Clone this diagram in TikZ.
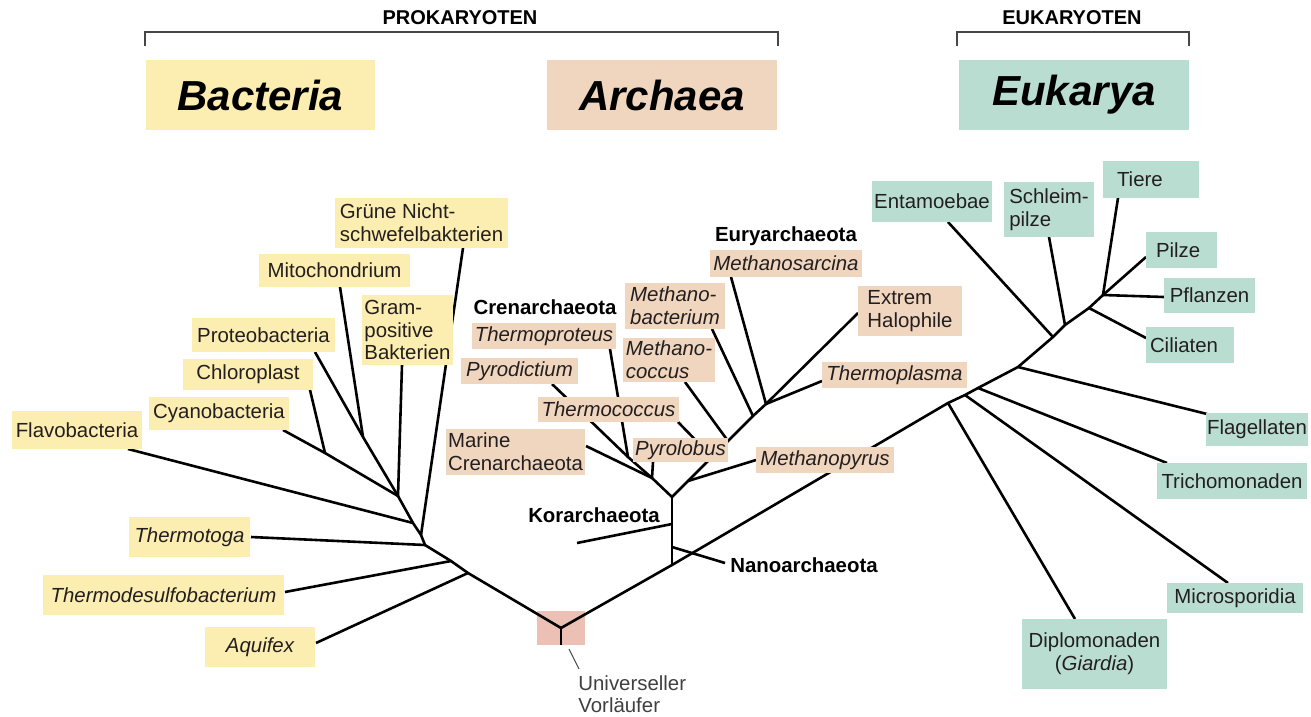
\documentclass[tikz,border=0pt]{standalone}
\usepackage{fontspec}
\setmainfont{Liberation Sans}
\usetikzlibrary{calc}
\definecolor{bacY}{RGB}{252,237,176}
\definecolor{arcP}{RGB}{240,214,190}
\definecolor{eukG}{RGB}{185,222,209}
\definecolor{rootR}{RGB}{236,192,180}
\definecolor{txt}{RGB}{35,31,32}
\definecolor{brk}{RGB}{70,70,70}
\pgfdeclarelayer{bottom}
\pgfdeclarelayer{bg}
\pgfsetlayers{bottom,bg,main}
\tikzset{
  lbl/.style={font=\fontsize{10.2}{11.3}\selectfont, text=txt, inner sep=0pt, align=center},
  it/.style={font=\fontsize{10.2}{11.3}\selectfont\itshape},
  title/.style={font=\fontsize{21}{24}\selectfont\bfseries\itshape, text=black},
  grp/.style={font=\fontsize{10.2}{11.3}\selectfont\bfseries, text=black, inner sep=0pt},
  head/.style={font=\fontsize{10}{12}\selectfont\bfseries, text=black, inner sep=0pt},
  br/.style={line width=1.3pt, black},
  thin/.style={line width=0.6pt, brk},
}
\newcommand\lbox[8]{%
  \pgfmathsetmacro\lbw{(#5-#3)*0.5}%
  \pgfmathsetmacro\lbh{(#6-#4)*0.5}%
  \node[lbl, fill=#2, minimum width=\lbw pt, minimum height=\lbh pt, #7] (#1) at ({(#3+#5)/2},{(#4+#6)/2}) {#8};}
\begin{document}
\begin{tikzpicture}[x=0.5pt, y=-0.5pt]
\useasboundingbox (0,0) rectangle (1311,717);

% ---------- headers ----------
\node[head] (prok) at (460,18) {PROKARYOTEN};
\node[head] (euk) at (1072,18) {EUKARYOTEN};
\coordinate (pb1) at (145,46); \coordinate (pb2) at (145,32);
\coordinate (pb3) at (778,32); \coordinate (pb4) at (778,46);
\coordinate (eb1) at (957,46); \coordinate (eb2) at (957,32);
\coordinate (eb3) at (1189,32); \coordinate (eb4) at (1189,46);
\draw[thin] (pb1) -- (pb2) -- (pb3) -- (pb4);
\draw[thin] (eb1) -- (eb2) -- (eb3) -- (eb4);

\lbox{hbac}{bacY}{146}{60}{375}{130}{title}{Bacteria}
\lbox{harc}{arcP}{547}{60}{777}{130}{title}{Archaea}
\lbox{heuk}{eukG}{959}{60}{1189}{130}{title}{Eukarya}

% ---------- bacteria ----------
\lbox{gruene}{bacY}{335}{198}{508}{248}{align=left}{Grüne Nicht-\\schwefelbakterien}
\lbox{mito}{bacY}{259}{254}{410}{287}{}{Mitochondrium}
\lbox{gram}{bacY}{362}{295}{453}{365}{align=left}{Gram-\\positive\\Bakterien}
\lbox{proteo}{bacY}{192}{318}{335}{352}{}{Proteobacteria}
\lbox{chloro}{bacY}{183}{359}{313}{390}{}{Chloroplast}
\lbox{cyano}{bacY}{149}{397}{289}{430}{}{Cyanobacteria}
\lbox{flavo}{bacY}{12}{411}{142}{449}{}{Flavobacteria}
\lbox{ttoga}{bacY}{129}{517}{250}{557}{it}{Thermotoga}
\lbox{tdesulf}{bacY}{43}{575}{284}{615}{it}{Thermodesulfobacterium}
\lbox{aquifex}{bacY}{205}{627}{315}{667}{it}{Aquifex}

% ---------- archaea ----------
\node[grp] (eury) at (786,236) {Euryarchaeota};
\node[grp] (cren) at (545,307) {Crenarchaeota};
\node[grp] (kor) at (594,515) {Korarchaeota};
\node[grp] (nano) at (804,565) {Nanoarchaeota};
\lbox{msarc}{arcP}{710}{250}{862}{277}{it}{Methanosarcina}
\lbox{mbact}{arcP}{625}{283}{725}{329}{it, align=left}{Methano-\\bacterium}
\lbox{tprot}{arcP}{472}{323}{616}{349}{it}{Thermoproteus}
\lbox{mcocc}{arcP}{623}{338}{715}{382}{it, align=left}{Methano-\\coccus}
\lbox{xhalo}{arcP}{858}{286}{962}{336}{align=left}{Extrem\\Halophile}
\lbox{pdict}{arcP}{461}{358}{578}{384}{it}{Pyrodictium}
\lbox{tplas}{arcP}{822}{362}{967}{388}{it}{Thermoplasma}
\lbox{tcocc}{arcP}{538}{397}{679}{422}{it}{Thermococcus}
\lbox{marine}{arcP}{446}{429}{585}{475}{align=left}{Marine\\Crenarchaeota}
\lbox{plobus}{arcP}{633}{438}{728}{462}{it}{Pyrolobus}
\lbox{mpyrus}{arcP}{756}{447}{894}{473}{it}{Methanopyrus}

% ---------- eukarya ----------
\lbox{entam}{eukG}{872}{181}{992}{222}{}{Entamoebae}
\lbox{schleim}{eukG}{1004}{182}{1094}{237}{align=left}{Schleim-\\pilze}
\lbox{tiere}{eukG}{1103}{161}{1199}{198}{text width=34pt, inner xsep=7pt, align=left}{Tiere}
\lbox{pilze}{eukG}{1146}{232}{1217}{268}{text width=25.5pt, inner xsep=5pt, align=left}{Pilze}
\lbox{pflanz}{eukG}{1164}{278}{1255}{313}{}{Pflanzen}
\lbox{cilia}{eukG}{1146}{327}{1234}{363}{text width=40pt, inner xsep=2pt, align=left}{Ciliaten}
\lbox{flag}{eukG}{1206}{413}{1308}{446}{}{Flagellaten}
\lbox{trich}{eukG}{1157}{463}{1307}{499}{}{Trichomonaden}
\lbox{micro}{eukG}{1167}{583}{1303}{613}{}{Microsporidia}
\lbox{diplo}{eukG}{1022}{619}{1167}{689}{}{Diplomonaden\\(\textit{Giardia})}

% ---------- root ----------
\begin{pgfonlayer}{bottom}
\lbox{rootbox}{rootR}{537}{611}{585}{645}{}{}
\end{pgfonlayer}
\node[lbl, align=left, anchor=north west, text=black!75] (uv) at (578,675) {Universeller\\Vorläufer};

% ---------- coordinates ----------
\coordinate (R) at (561,628); \coordinate (Rb) at (561,645);
\coordinate (uvA) at (569,649); \coordinate (uvB) at (579,669);
% bacteria
\coordinate (jAq) at (468,573); \coordinate (jTD) at (451,561);
\coordinate (jTt) at (425,545); \coordinate (jGr) at (421,535);
\coordinate (jFl) at (413,523); \coordinate (J2) at (398,496);
\coordinate (J1) at (363,437); \coordinate (J3) at (325,453);
\coordinate (pAq) at (316,643); \coordinate (pTD) at (285,592);
\coordinate (pTt) at (251,537); \coordinate (pGr) at (463,248);
\coordinate (pFl) at (128,449); \coordinate (pGram) at (402,365);
\coordinate (pProt) at (315,352); \coordinate (pMito) at (340,287);
\coordinate (pChl) at (310,390); \coordinate (pCya) at (283,430);
% archaea
\coordinate (A0) at (672,565); \coordinate (A1) at (672,497);
\coordinate (kJ) at (672,524); \coordinate (nJ) at (672,547);
\coordinate (pKor) at (577,543); \coordinate (pNano) at (725,563);
\coordinate (C1) at (652,478); \coordinate (C2) at (628,457);
\coordinate (pMar) at (586,446); \coordinate (pPyl) at (653,462);
\coordinate (pTpr) at (610,349); \coordinate (pPyd) at (552,384);
\coordinate (mpJ) at (688,481); \coordinate (tcJ) at (712,457);
\coordinate (mcJ) at (728,441); \coordinate (mbJ) at (753,416);
\coordinate (E1) at (766,404);
\coordinate (pMpy) at (756,460); \coordinate (pTco) at (678,422);
\coordinate (pMco) at (685,382); \coordinate (pMba) at (712,329);
\coordinate (pMsa) at (731,277); \coordinate (pHal) at (858,313);
\coordinate (pTpl) at (822,381);
% eukarya
\coordinate (e1) at (948,403); \coordinate (e2) at (965,395);
\coordinate (e3) at (978,388); \coordinate (e4) at (1018,367);
\coordinate (e5) at (1053,337); \coordinate (e6) at (1065,325);
\coordinate (e7) at (1089,308); \coordinate (e8) at (1103,295);
\coordinate (pDip) at (1075,619); \coordinate (pMic) at (1228,583);
\coordinate (pTri) at (1167,463); \coordinate (pFla) at (1207,414);
\coordinate (pEnt) at (948,222); \coordinate (pSch) at (1049,237);
\coordinate (pTie) at (1118,198); \coordinate (pPil) at (1146,257);
\coordinate (pPfl) at (1164,297); \coordinate (pCil) at (1146,338);

% ---------- branches ----------
\begin{pgfonlayer}{bg}
\draw[br] (R) -- (Rb);
\draw[thin, line width=0.5pt] (uvA) -- (uvB);
% bacteria
\draw[br] (R) -- (jAq) -- (jTD) -- (jTt) -- (jGr) -- (jFl) -- (J2) -- (J1) -- (pProt);
\draw[br] (pAq) -- (jAq);
\draw[br] (pTD) -- (jTD);
\draw[br] (pTt) -- (jTt);
\draw[br] (pGr) -- (jGr);
\draw[br] (pFl) -- (jFl);
\draw[br] (pGram) -- (J2);
\draw[br] (pMito) -- (J1);
\draw[br] (J2) -- (J3) -- (pCya);
\draw[br] (pChl) -- (J3);
% archaea
\draw[br] (R) -- (A0) -- (e1) -- (e2) -- (e3) -- (e4) -- (e5) -- (e6) -- (e7) -- (e8);
\draw[br] (A0) -- (nJ) -- (kJ) -- (A1);
\draw[br] (kJ) -- (pKor);
\draw[br] (nJ) -- (pNano);
\draw[br] (A1) -- (C1) -- (C2) -- (pTpr);
\draw[br] (C2) -- (pPyd);
\draw[br] (C1) -- (pMar);
\draw[br] (C1) -- (pPyl);
\draw[br] (A1) -- (mpJ) -- (tcJ) -- (mcJ) -- (mbJ) -- (E1) -- (pHal);
\draw[br] (E1) -- (pMsa);
\draw[br] (E1) -- (pTpl);
\draw[br] (mbJ) -- (pMba);
\draw[br] (mcJ) -- (pMco);
\draw[br] (tcJ) -- (pTco);
\draw[br] (mpJ) -- (pMpy);
% eukarya
\draw[br] (e1) -- (pDip);
\draw[br] (e2) -- (pMic);
\draw[br] (e3) -- (pTri);
\draw[br] (e4) -- (pFla);
\draw[br] (e5) -- (pEnt);
\draw[br] (e6) -- (pSch);
\draw[br] (e7) -- (pCil);
\draw[br] (e8) -- (pTie);
\draw[br] (e8) -- (pPil);
\draw[br] (e8) -- (pPfl);
\end{pgfonlayer}
\end{tikzpicture}
\end{document}
